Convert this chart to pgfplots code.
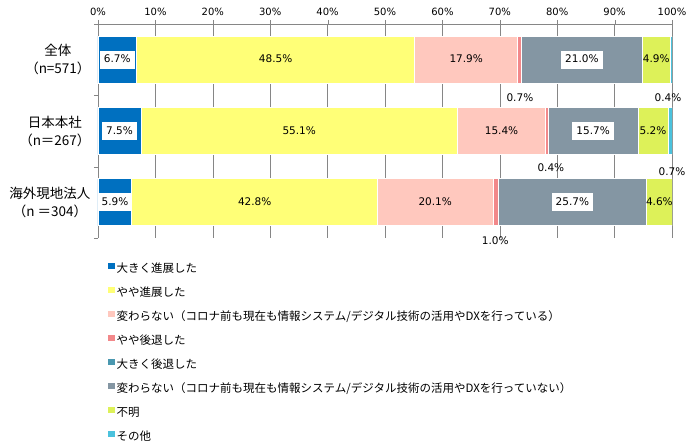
\documentclass[border=0pt]{standalone}
\usepackage{fontspec}
\setmainfont{DejaVu Sans}
\newfontfamily\jp{Noto Sans CJK JP}
\usepackage{pgfplots}
\pgfplotsset{compat=1.18}

\definecolor{c1}{HTML}{0070C0}
\definecolor{c2}{HTML}{FFFF77}
\definecolor{c3}{HTML}{FFC8BE}
\definecolor{c4}{HTML}{F2888A}
\definecolor{c5}{HTML}{4A98B0}
\definecolor{c6}{HTML}{8496A3}
\definecolor{c7}{HTML}{DDF159}
\definecolor{c8}{HTML}{4BC2DD}
\definecolor{gridc}{HTML}{868686}

% common frame for both axes: 1px = 1pt
\pgfplotsset{frame/.style={
    at={(98pt,206pt)}, anchor=south west,
    width=574pt, height=214pt, scale only axis,
    xmin=0, xmax=100, ymin=-0.5, ymax=2.5, y dir=reverse,
}}

\begin{document}
\begin{tikzpicture}
\useasboundingbox (0pt,0pt) rectangle (694pt,444pt);
\begin{axis}[
    frame,
    xbar stacked,
    bar width=0.66,
    axis x line*=top,
    axis y line*=left,
    axis line style={draw=gridc,-},
    xtick={0,10,...,100},
    xticklabel={\pgfmathprintnumber{\tick}\%},
    /pgf/number format/assume math mode=true,
    x tick label style={font=\fontsize{10}{12}\selectfont, yshift=1pt},
    ytick={0,1,2},
    yticklabels={全体\\（n=571）, 日本本社\\（n＝267）, 海外現地法人\\（n ＝304）},
    y tick label style={font=\jp\fontsize{13.5}{18}\selectfont, align=center},
    minor ytick={-0.5,0.5,1.5,2.5},
    major y tick style={draw=none},
    minor y tick style={draw=gridc},
    major x tick style={draw=gridc},
    major tick length=4pt,
    minor tick length=4pt,
    tick align=outside,
    xmajorgrids,
    major x grid style={draw=gridc, line width=0.6pt},
    legend cell align=left,
    legend image code/.code={\path[#1, draw=none] (0pt,0.5pt) rectangle (6.5pt,7pt);},
    legend style={at={(0.0174,-0.114)}, anchor=north west, draw=none, fill=none,
        inner sep=0pt, row sep=11pt, column sep=2pt,
        nodes={inner sep=0pt, text height=9pt, text depth=3pt,
               font=\jp\fontsize{11.5}{12}\selectfont}},
]
\addplot[fill=c1, draw=white, line width=0.8pt] coordinates {(6.7,0) (7.5,1) (5.9,2)};
\addlegendentry{大きく進展した}
\addplot[fill=c2, draw=white, line width=0.8pt] coordinates {(48.5,0) (55.1,1) (42.8,2)};
\addlegendentry{やや進展した}
\addplot[fill=c3, draw=white, line width=0.8pt] coordinates {(17.9,0) (15.4,1) (20.1,2)};
\addlegendentry{変わらない（コロナ前も現在も情報システム/デジタル技術の活用やDXを行っている）}
\addplot[fill=c4, draw=white, line width=0.8pt] coordinates {(0.7,0) (0.4,1) (1.0,2)};
\addlegendentry{やや後退した}
\addplot[fill=c5, draw=white, line width=0.8pt] coordinates {(0,0) (0,1) (0,2)};
\addlegendentry{大きく後退した}
\addplot[fill=c6, draw=white, line width=0.8pt] coordinates {(21.0,0) (15.7,1) (25.7,2)};
\addlegendentry{変わらない（コロナ前も現在も情報システム/デジタル技術の活用やDXを行っていない）}
\addplot[fill=c7, draw=white, line width=0.8pt] coordinates {(4.9,0) (5.2,1) (4.6,2)};
\addlegendentry{不明}
\addplot[fill=c8, draw=white, line width=0.8pt] coordinates {(0.4,0) (0.7,1) (0,2)};
\addlegendentry{その他}
\end{axis}

% data labels
\begin{axis}[
    frame,
    hide axis,
    clip=false,
    point meta=explicit symbolic,
    nodes near coords={\pgfplotspointmeta\%},
    every node near coord/.append style={anchor=center, text=black,
        font=\fontsize{10.5}{12}\selectfont, text height=7.7pt, text depth=1.5pt,
        inner xsep=4pt, inner ysep=4.5pt},
]
% labels on a white box
\addplot[draw=none, mark=none, nodes near coords style={fill=white}]
  table[meta=v] {
x      y  v
3.35   0  6.7
84.3   0  21.0
3.75   1  7.5
86.25  1  15.7
2.95   2  5.9
82.65  2  25.7
};
% labels without a box
\addplot[draw=none, mark=none]
  table[meta=v] {
x      y  v
30.95  0  48.5
64.15  0  17.9
97.25  0  4.9
35.05  1  55.1
70.3   1  15.4
96.7   1  5.2
27.3   2  42.8
58.75  2  20.1
97.8   2  4.6
};
% small values placed below their bar
\addplot[draw=none, mark=none]
  table[meta=v] {
x      y      v
73.5   0.55   0.7
99.3   0.55   0.4
78.9   1.52   0.4
100.0  1.575  0.7
69.2   2.55   1.0
};
\end{axis}
\end{tikzpicture}
\end{document}
